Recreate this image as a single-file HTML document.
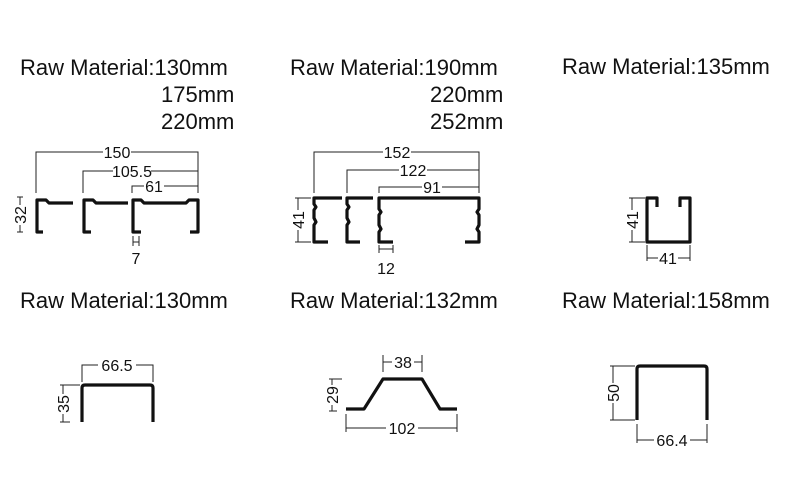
<!DOCTYPE html>
<html><head><meta charset="utf-8"><style>
html,body{margin:0;padding:0;background:#fff;}
svg{display:block;}
.t{font-family:"Liberation Sans",Arial,sans-serif;font-size:22px;fill:#111;}
.d{font-family:"Liberation Sans",Arial,sans-serif;font-size:16px;fill:#111;}
.p{fill:none;stroke:#111;stroke-width:3.2;stroke-linejoin:round;}
.l{fill:none;stroke:#222;stroke-width:1;}
</style></head><body>
<svg width="800" height="504" viewBox="0 0 800 504" xmlns="http://www.w3.org/2000/svg">
<rect width="800" height="504" fill="#fff"/>
<text class="t" x="20" y="75">Raw Material:130mm</text>
<text class="t" x="161" y="102">175mm</text>
<text class="t" x="161" y="129">220mm</text>
<text class="t" x="290" y="75">Raw Material:190mm</text>
<text class="t" x="430" y="102">220mm</text>
<text class="t" x="430" y="129">252mm</text>
<text class="t" x="562" y="74">Raw Material:135mm</text>
<text class="t" x="20" y="308">Raw Material:130mm</text>
<text class="t" x="290" y="308">Raw Material:132mm</text>
<text class="t" x="562" y="308">Raw Material:158mm</text>

<!-- Profile 1 -->
<path class="l" d="M36,193V152H198V193 M83,193V171H198 M132,193V186H198"/>
<rect x="103" y="144" width="28" height="16" fill="#fff"/><text class="d" x="117" y="158" text-anchor="middle">150</text>
<rect x="113" y="163" width="38" height="16" fill="#fff"/><text class="d" x="132" y="177" text-anchor="middle">105.5</text>
<rect x="144" y="178" width="20" height="16" fill="#fff"/><text class="d" x="154" y="192" text-anchor="middle">61</text>
<path class="p" d="M43,232H37V200H46L49,203H73"/>
<path class="p" d="M91,232H84V200H93L96,203H128"/>
<path class="p" d="M141,232H133V200H141L144,203H186L189,200H198V232H190"/>
<path class="l" d="M17,197H23M20,197V232M17,232H23"/>
<rect x="13" y="205" width="14" height="20" fill="#fff"/>
<text class="d" transform="translate(26,215) rotate(-90)" text-anchor="middle">32</text>
<path class="l" d="M133,236V246M139,236V246M133,242H139"/>
<text class="d" x="136" y="264" text-anchor="middle">7</text>

<!-- Profile 2 -->
<path class="l" d="M314,193V152H479V193 M347,193V170H479 M379,193V187H479"/>
<rect x="383" y="144" width="28" height="16" fill="#fff"/><text class="d" x="397" y="158" text-anchor="middle">152</text>
<rect x="399" y="162" width="28" height="16" fill="#fff"/><text class="d" x="413" y="176" text-anchor="middle">122</text>
<rect x="422" y="179" width="20" height="16" fill="#fff"/><text class="d" x="432" y="193" text-anchor="middle">91</text>
<path class="p" d="M328,242H314V225L316,222L314,218V210L316,207L314,204V198H342"/>
<path class="p" d="M360,242H347V225L349,222L347,218V210L349,207L347,204V198H373"/>
<path class="p" d="M393,242H379V232L381,229L379,225V215L381,212L379,209V198H479V209L477,212L479,215V225L477,229L479,232V242H465"/>
<path class="l" d="M295,198H311M298,198V242M295,242H311"/>
<rect x="291" y="210" width="14" height="20" fill="#fff"/>
<text class="d" transform="translate(304,220) rotate(-90)" text-anchor="middle">41</text>
<path class="l" d="M379,245V253M393,245V253M379,249H393"/>
<text class="d" x="386" y="274" text-anchor="middle">12</text>

<!-- Profile 3 -->
<path class="p" d="M657,207V198H647V242H690V198H680V207"/>
<path class="l" d="M629,198H645M632,198V242M629,242H645"/>
<rect x="625" y="210" width="14" height="20" fill="#fff"/>
<text class="d" transform="translate(638,220) rotate(-90)" text-anchor="middle">41</text>
<path class="l" d="M647,245V261M690,245V261M647,258H690"/>
<rect x="658" y="250" width="20" height="16" fill="#fff"/><text class="d" x="668" y="264" text-anchor="middle">41</text>

<!-- Profile 4 -->
<path class="p" d="M82,422V388Q82,385 85,385H150Q153,385 153,388V422"/>
<path class="l" d="M82,382V365H153V382"/>
<rect x="98" y="357" width="38" height="16" fill="#fff"/><text class="d" x="117" y="371" text-anchor="middle">66.5</text>
<path class="l" d="M60,385H80M63,385V422M60,422H70"/>
<rect x="56" y="394" width="14" height="20" fill="#fff"/>
<text class="d" transform="translate(69,404) rotate(-90)" text-anchor="middle">35</text>

<!-- Profile 5 -->
<path class="p" d="M346,409H364L383,379H422L440,409H457"/>
<path class="l" d="M383,372V355M422,372V355M383,362H422"/>
<rect x="392" y="354" width="22" height="16" fill="#fff"/><text class="d" x="403" y="368" text-anchor="middle">38</text>
<path class="l" d="M329,379H342M332,379V411M329,411H337"/>
<rect x="325" y="385" width="14" height="20" fill="#fff"/>
<text class="d" transform="translate(338,395) rotate(-90)" text-anchor="middle">29</text>
<path class="l" d="M346,414V432M457,414V432M346,428H457"/>
<rect x="386" y="420" width="32" height="16" fill="#fff"/><text class="d" x="402" y="434" text-anchor="middle">102</text>

<!-- Profile 6 -->
<path class="p" d="M637,420V369Q637,366 640,366H704Q707,366 707,369V420"/>
<path class="l" d="M610,366H635M613,366V420M610,420H635"/>
<rect x="606" y="383" width="14" height="20" fill="#fff"/>
<text class="d" transform="translate(619,393) rotate(-90)" text-anchor="middle">50</text>
<path class="l" d="M637,424V443M707,424V443M637,440H707"/>
<rect x="654" y="432" width="36" height="16" fill="#fff"/><text class="d" x="672" y="446" text-anchor="middle">66.4</text>
</svg>
</body></html>
